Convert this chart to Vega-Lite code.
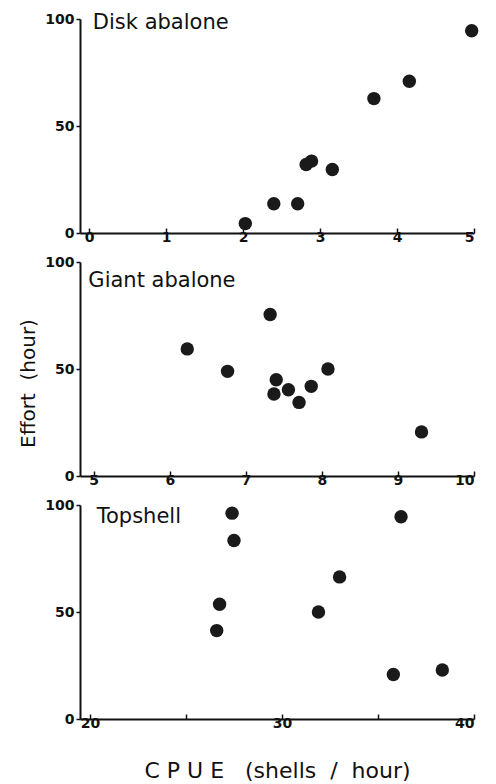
{
  "$schema": "https://vega.github.io/schema/vega-lite/v6.json",
  "padding": {"left": 18, "top": 12, "right": 10, "bottom": 5},
  "background": "white",
  "bounds": "flush",
  "spacing": 29,
  "config": {
    "view": {"stroke": null},
    "font": "DejaVu Sans",
    "axis": {
      "grid": false,
      "domainColor": "#111",
      "domainWidth": 2,
      "tickColor": "#111",
      "tickWidth": 1.5,
      "tickSize": 4,
      "format": "d",
      "labelFont": "DejaVu Sans",
      "labelFontWeight": "bold",
      "labelFontSize": 14,
      "labelColor": "#111",
      "titleFont": "DejaVu Sans",
      "titleFontWeight": "normal",
      "titleFontSize": 18,
      "titleColor": "#111"
    },
    "axisX": {"tickSize": -5, "labelPadding": 2},
    "axisY": {"labelPadding": 2}
  },
  "datasets": {
    "points": [
      {"species": "Disk abalone", "cpue": 4.97, "effort": 94.5},
      {"species": "Disk abalone", "cpue": 4.16, "effort": 70.9},
      {"species": "Disk abalone", "cpue": 3.70, "effort": 62.8},
      {"species": "Disk abalone", "cpue": 2.89, "effort": 33.6},
      {"species": "Disk abalone", "cpue": 2.82, "effort": 32.0},
      {"species": "Disk abalone", "cpue": 3.16, "effort": 29.7},
      {"species": "Disk abalone", "cpue": 2.40, "effort": 13.7},
      {"species": "Disk abalone", "cpue": 2.71, "effort": 13.7},
      {"species": "Disk abalone", "cpue": 2.03, "effort": 4.4},
      {"species": "Giant abalone", "cpue": 7.32, "effort": 75.5},
      {"species": "Giant abalone", "cpue": 6.23, "effort": 59.4},
      {"species": "Giant abalone", "cpue": 6.76, "effort": 48.9},
      {"species": "Giant abalone", "cpue": 8.08, "effort": 50.0},
      {"species": "Giant abalone", "cpue": 7.40, "effort": 45.0},
      {"species": "Giant abalone", "cpue": 7.37, "effort": 38.3},
      {"species": "Giant abalone", "cpue": 7.56, "effort": 40.3},
      {"species": "Giant abalone", "cpue": 7.86, "effort": 41.9},
      {"species": "Giant abalone", "cpue": 7.70, "effort": 34.4},
      {"species": "Giant abalone", "cpue": 9.31, "effort": 20.6},
      {"species": "Topshell", "cpue": 27.4, "effort": 96.2},
      {"species": "Topshell", "cpue": 27.5, "effort": 83.4},
      {"species": "Topshell", "cpue": 36.2, "effort": 94.5},
      {"species": "Topshell", "cpue": 33.0, "effort": 66.4},
      {"species": "Topshell", "cpue": 26.75, "effort": 53.6},
      {"species": "Topshell", "cpue": 31.9, "effort": 50.0},
      {"species": "Topshell", "cpue": 26.6, "effort": 41.3},
      {"species": "Topshell", "cpue": 35.8, "effort": 20.8},
      {"species": "Topshell", "cpue": 38.35, "effort": 22.9}
    ],
    "labels": [
      {"species": "Disk abalone", "cpue": 0.05, "effort": 98},
      {"species": "Giant abalone", "cpue": 4.93, "effort": 91},
      {"species": "Topshell", "cpue": 20.35, "effort": 94.6}
    ]
  },
  "vconcat": [
    {
      "width": 394, "height": 214,
      "layer": [
        {
          "data": {"name": "points"},
          "transform": [{"filter": "datum.species === 'Disk abalone'"}],
          "mark": {"type": "point", "filled": true, "size": 180, "color": "#1a1a1a", "opacity": 1},
          "encoding": {
            "x": {"field": "cpue", "type": "quantitative", "scale": {"domain": [-0.117, 5], "nice": false, "zero": false},
                  "axis": {"values": [0, 1, 2, 3, 4, 5], "title": null}},
            "y": {"field": "effort", "type": "quantitative", "scale": {"domain": [0, 100], "nice": false},
                  "axis": {"values": [0, 50, 100], "title": null}}
          }
        },
        {
          "data": {"name": "labels"},
          "transform": [{"filter": "datum.species === 'Disk abalone'"}],
          "mark": {"type": "text", "align": "left", "baseline": "middle", "fontSize": 21, "fontWeight": "normal", "font": "DejaVu Sans", "color": "#111"},
          "encoding": {
            "x": {"field": "cpue", "type": "quantitative"},
            "y": {"field": "effort", "type": "quantitative"},
            "text": {"field": "species"}
          }
        }
      ]
    },
    {
      "width": 394, "height": 214,
      "layer": [
        {
          "data": {"name": "points"},
          "transform": [{"filter": "datum.species === 'Giant abalone'"}],
          "mark": {"type": "point", "filled": true, "size": 180, "color": "#1a1a1a", "opacity": 1},
          "encoding": {
            "x": {"field": "cpue", "type": "quantitative", "scale": {"domain": [4.82, 10], "nice": false, "zero": false},
                  "axis": {"values": [5, 6, 7, 8, 9, 10], "title": null}},
            "y": {"field": "effort", "type": "quantitative", "scale": {"domain": [0, 100], "nice": false},
                  "axis": {"values": [0, 50, 100], "title": "Effort\u00a0\u00a0(hour)", "titleFontSize": 20, "titlePadding": 6, "titleY": 121}}
          }
        },
        {
          "data": {"name": "labels"},
          "transform": [{"filter": "datum.species === 'Giant abalone'"}],
          "mark": {"type": "text", "align": "left", "baseline": "middle", "fontSize": 21, "fontWeight": "normal", "font": "DejaVu Sans", "color": "#111"},
          "encoding": {
            "x": {"field": "cpue", "type": "quantitative"},
            "y": {"field": "effort", "type": "quantitative"},
            "text": {"field": "species"}
          }
        }
      ]
    },
    {
      "width": 394, "height": 214,
      "layer": [
        {
          "data": {"name": "points"},
          "transform": [{"filter": "datum.species === 'Topshell'"}],
          "mark": {"type": "point", "filled": true, "size": 180, "color": "#1a1a1a", "opacity": 1},
          "encoding": {
            "x": {"field": "cpue", "type": "quantitative", "scale": {"domain": [19.48, 40], "nice": false, "zero": false},
                  "axis": {"values": [20, 25, 30, 35, 40], "labelExpr": "datum.value % 10 === 0 ? datum.label : ''",
                           "title": "C P U E\u00a0\u00a0\u00a0(shells\u00a0\u00a0/\u00a0\u00a0hour)", "titleFontSize": 22, "titlePadding": 30}},
            "y": {"field": "effort", "type": "quantitative", "scale": {"domain": [0, 100], "nice": false},
                  "axis": {"values": [0, 50, 100], "title": null}}
          }
        },
        {
          "data": {"name": "labels"},
          "transform": [{"filter": "datum.species === 'Topshell'"}],
          "mark": {"type": "text", "align": "left", "baseline": "middle", "fontSize": 21, "fontWeight": "normal", "font": "DejaVu Sans", "color": "#111"},
          "encoding": {
            "x": {"field": "cpue", "type": "quantitative"},
            "y": {"field": "effort", "type": "quantitative"},
            "text": {"field": "species"}
          }
        }
      ]
    }
  ]
}
